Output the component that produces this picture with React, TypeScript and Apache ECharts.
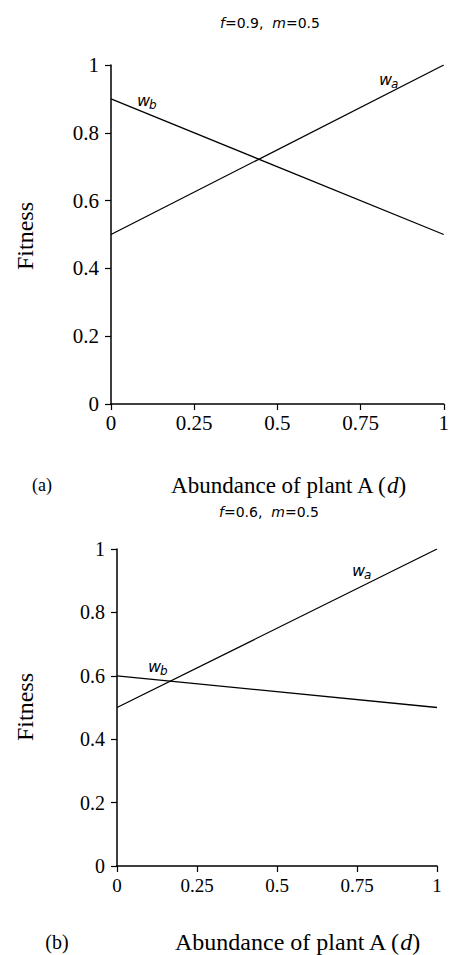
import React, { useEffect, useRef } from "react";
import * as echarts from "echarts";

// Abundance of plant A (d)
const dValues = [0, 1];
// Panel (a): f=0.9, m=0.5
const waPanelA = [0.5, 1.0];
const wbPanelA = [0.9, 0.5];
// Panel (b): f=0.6, m=0.5
const waPanelB = [0.5, 1.0];
const wbPanelB = [0.6, 0.5];

const titles = ["{i|f}=0.9,  {i|m}=0.5", "{i|f}=0.6,  {i|m}=0.5"];
const xName = "Abundance of plant A ({i|d})";
const yName = "Fitness";
const panelTags = ["(a)", "(b)"];

const SERIF = "'Liberation Serif', 'Times New Roman', serif";
const SANS = "'DejaVu Sans', sans-serif";

function pts(ys: number[]) {
  return dValues.map((d, k) => [d, ys[k]]);
}

function wLabel(x: number, y: number, sub: string) {
  return [
    {
      type: "text",
      x,
      y,
      style: {
        text: "w",
        fontFamily: SANS,
        fontStyle: "italic",
        fontSize: 16,
        fill: "#000",
        align: "left",
        verticalAlign: "middle",
      },
    },
    {
      type: "text",
      x: x + 12,
      y: y + 5,
      style: {
        text: sub,
        fontFamily: SANS,
        fontStyle: "italic",
        fontSize: 12,
        fill: "#000",
        align: "left",
        verticalAlign: "middle",
      },
    },
  ];
}

export default function App() {
  const ref = useRef<HTMLDivElement>(null);

  useEffect(() => {
    if (!ref.current) return;
    const chart = echarts.init(ref.current, undefined, { renderer: "svg" });
    const axisLine = { onZero: false, lineStyle: { color: "#000", width: 1.5 } };
    const axisTick = { show: true, inside: false, length: 6, lineStyle: { color: "#000", width: 1.2 } };

    const xAxis = [0, 1].map((i) => ({
      gridIndex: i,
      type: "value",
      min: 0,
      max: 1,
      interval: 0.25,
      axisLine,
      axisTick,
      splitLine: { show: false },
      axisLabel: {
        color: "#000",
        fontFamily: SERIF,
        fontSize: i ? 19 : 21,
        margin: i ? 10 : 8,
        showMinLabel: true,
        showMaxLabel: true,
      },
    }));
    const yAxis = [0, 1].map((i) => ({
      gridIndex: i,
      type: "value",
      min: 0,
      max: 1,
      interval: 0.2,
      axisLine,
      axisTick,
      splitLine: { show: false },
      axisLabel: {
        color: "#000",
        fontFamily: SERIF,
        fontSize: i ? 20 : 21,
        margin: 12,
        formatter: (v: number) => String(Math.round(v * 10) / 10),
      },
    }));

    const lineSeries = (name: string, data: number[][], i: number) => ({
      name,
      type: "line",
      xAxisIndex: i,
      yAxisIndex: i,
      data,
      showSymbol: false,
      symbol: "none",
      lineStyle: { color: "#000", width: 1.3 },
      silent: true,
    });

    const titleText = (text: string, x: number, y: number) => ({
      type: "text",
      x,
      y,
      style: {
        text,
        fontFamily: SANS,
        fontSize: 14,
        fill: "#000",
        align: "center",
        verticalAlign: "middle",
        rich: { i: { fontFamily: SANS, fontSize: 14, fontStyle: "italic", fill: "#000" } },
      },
    });
    const xNameText = (x: number, y: number, size: number) => ({
      type: "text",
      x,
      y,
      style: {
        text: xName,
        fontFamily: SERIF,
        fontSize: size,
        fill: "#000",
        align: "center",
        verticalAlign: "middle",
        rich: { i: { fontFamily: SERIF, fontSize: size, fontStyle: "italic", fill: "#000" } },
      },
    });
    const plainText = (text: string, x: number, y: number, size: number, rotation = 0) => ({
      type: "text",
      x,
      y,
      rotation,
      style: {
        text,
        fontFamily: SERIF,
        fontSize: size,
        fill: "#000",
        align: "center",
        verticalAlign: "middle",
      },
    });

    chart.setOption({
      animation: false,
      backgroundColor: "#fff",
      grid: [
        { left: 111, top: 65, width: 338, height: 339 },
        { left: 117, top: 549, width: 320, height: 317 },
      ],
      xAxis,
      yAxis,
      series: [
        lineSeries("wa (a)", pts(waPanelA), 0),
        lineSeries("wb (a)", pts(wbPanelA), 0),
        lineSeries("wa (b)", pts(waPanelB), 1),
        lineSeries("wb (b)", pts(wbPanelB), 1),
      ],
      graphic: [
        titleText(titles[0], 270, 23),
        titleText(titles[1], 269, 512),
        plainText(yName, 25, 236, 24, Math.PI / 2),
        plainText(yName, 25, 707, 24, Math.PI / 2),
        plainText(panelTags[0], 42, 485, 18),
        plainText(panelTags[1], 57, 942, 20),
        xNameText(288, 485, 23),
        xNameText(297, 942, 24),
        ...wLabel(137, 100, "b"),
        ...wLabel(379, 79, "a"),
        ...wLabel(148, 666, "b"),
        ...wLabel(352, 570, "a"),
      ],
    });
    return () => chart.dispose();
  }, []);

  return (
    <div
      ref={ref}
      style={{ position: "fixed", left: 0, top: 0, width: 452, height: 955, background: "#fff" }}
    />
  );
}
